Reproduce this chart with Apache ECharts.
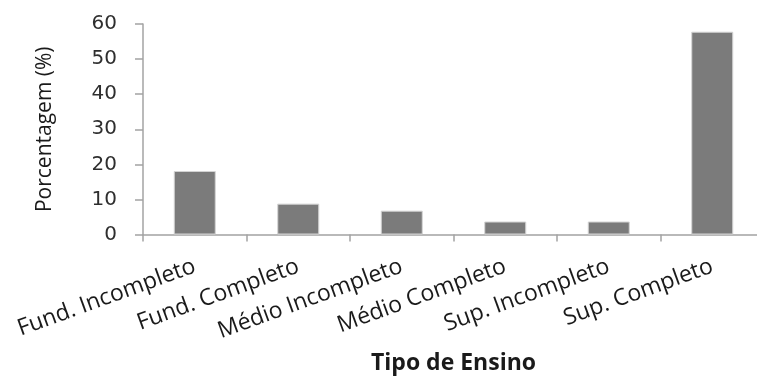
<!DOCTYPE html>
<html>
<head>
<meta charset="utf-8">
<script src="https://cdn.jsdelivr.net/npm/echarts@6/dist/echarts.min.js"></script>
<style>
  html, body { margin: 0; padding: 0; background: #ffffff; }
  #chart { width: 757px; height: 381px; }
</style>
</head>
<body>
<div id="chart"></div>
<script>
// Education level categories and share of respondents (%)
const categories = [
  'Fund. Incompleto',
  'Fund. Completo',
  'Médio Incompleto',
  'Médio Completo',
  'Sup. Incompleto',
  'Sup. Completo'
];
const percentages = [18.1, 8.8, 6.8, 3.7, 3.7, 57.8];
const yTicks = [0, 10, 20, 30, 40, 50, 60];

const axisColor = '#a3a3a3';
const chart = echarts.init(document.getElementById('chart'), null, { renderer: 'canvas' });

chart.setOption({
  animation: false,
  backgroundColor: '#ffffff',
  // the plot area runs past the right edge of the canvas
  grid: { left: 143, top: 24, width: 621, height: 210.5, containLabel: false, outerBoundsMode: 'none' },
  xAxis: {
    type: 'category',
    data: categories,
    name: 'Tipo de Ensino',
    nameLocation: 'middle',
    nameGap: 117,
    nameTextStyle: { fontFamily: 'Open Sans', fontSize: 23, fontWeight: 'bold', color: '#1a1a1a' },
    axisLine: { lineStyle: { color: axisColor, width: 1.5 } },
    axisTick: { show: true, alignWithLabel: false, length: 7, lineStyle: { color: axisColor, width: 1.5 } },
    axisLabel: {
      rotate: 20,
      margin: 31,
      interval: 0,
      fontFamily: 'Open Sans',
      fontSize: 23,
      color: '#1a1a1a'
    },
    splitLine: { show: false }
  },
  yAxis: {
    type: 'value',
    min: yTicks[0],
    max: yTicks[yTicks.length - 1],
    interval: 10,
    name: 'Porcentagem (%)',
    nameLocation: 'middle',
    nameGap: 87,
    nameTextStyle: { fontFamily: 'Open Sans', fontSize: 21, color: '#1a1a1a' },
    axisLine: { show: true, lineStyle: { color: axisColor, width: 1.5 } },
    axisTick: { show: true, length: 8, lineStyle: { color: axisColor, width: 1.5 } },
    axisLabel: {
      margin: 26,
      fontFamily: 'DejaVu Sans',
      fontSize: 20,
      color: '#2e2e2e'
    },
    splitLine: { show: false }
  },
  series: [{
    type: 'bar',
    data: percentages,
    barWidth: 42,
    itemStyle: { color: '#7b7b7b', borderColor: '#d4d4d4', borderWidth: 1 }
  }]
});
</script>
</body>
</html>
